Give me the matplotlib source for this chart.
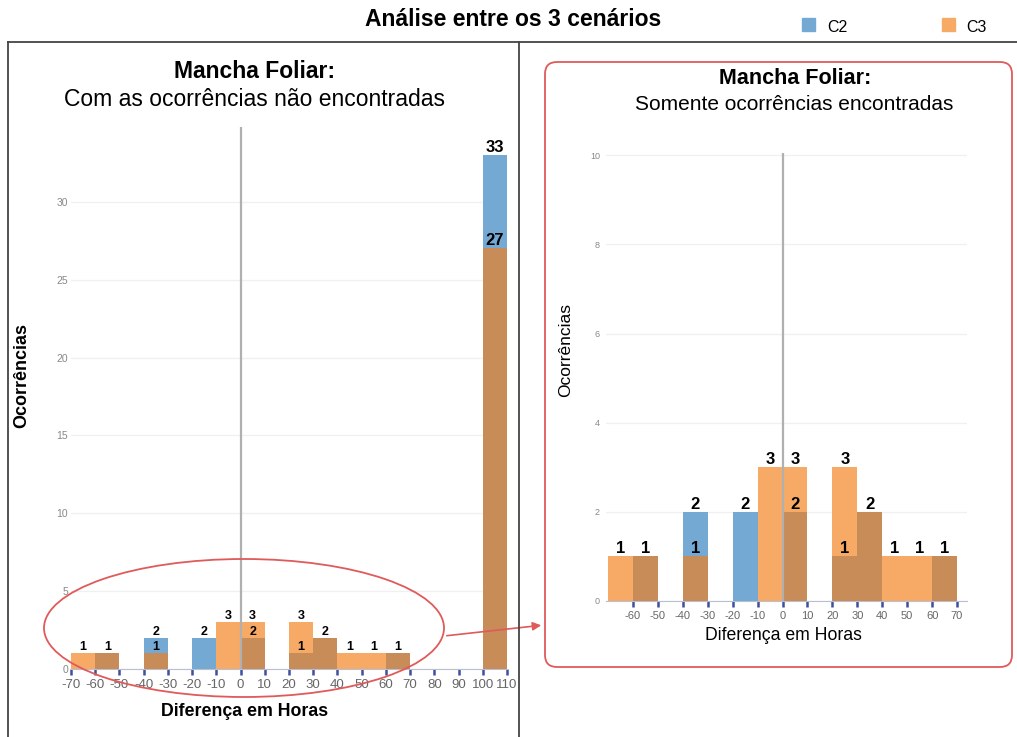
import numpy as np
import matplotlib
matplotlib.use("Agg")
import matplotlib.pyplot as plt
from matplotlib.patches import Ellipse, FancyBboxPatch, Rectangle, FancyArrowPatch
from matplotlib.lines import Line2D

plt.rcParams["font.family"] = ["Liberation Sans", "DejaVu Sans"]
plt.rcParams["axes.unicode_minus"] = False

# ================= DATA =================
# left edge of each 10 h bin, counts per scenario
bin_left = np.array([-70, -60, -40, -20, -10, 0, 20, 30, 40, 50, 60, 100])
c2 = np.array([0, 1, 2, 2, 0, 2, 1, 2, 0, 0, 1, 33])
c3 = np.array([1, 1, 1, 0, 3, 3, 3, 2, 1, 1, 1, 27])
BIN_W = 10

xticks_left = list(range(-70, 111, 10))
yticks_left = [0, 5, 10, 15, 20, 25, 30]
xticks_right = list(range(-60, 71, 10))
yticks_right = [0, 2, 4, 6, 8, 10]

BLUE = "#74a9d3"
ORANGE = "#f7aa66"
BROWN = "#c78c57"
RED = "#e05a5a"

W, H = 1017, 737
fig = plt.figure(figsize=(W / 100, H / 100), dpi=100)


def px(x, y):
    # pixel (top-left origin) -> figure fraction
    return x / W, 1 - y / H


def draw_hist(ax, left, a, b, lab_size):
    ax.bar(left, a, width=BIN_W, align="edge", color=BLUE, linewidth=0, zorder=2)
    ax.bar(left, b, width=BIN_W, align="edge", color=ORANGE, linewidth=0, zorder=2)
    ax.bar(left, np.minimum(a, b), width=BIN_W, align="edge", color=BROWN,
           linewidth=0, zorder=3)
    for x, v2, v3 in zip(left, a, b):
        for v in sorted(set([v2, v3])):
            if v > 0:
                ax.text(x + BIN_W / 2, v, str(v), ha="center", va="bottom",
                        fontsize=lab_size, fontweight="bold", zorder=5)
    ax.axvline(0, color="#b0b0b0", lw=1.6, zorder=4)
    for s in ["top", "right", "left"]:
        ax.spines[s].set_visible(False)
    ax.spines["bottom"].set_color("#b8bfd4")
    ax.tick_params(axis="x", colors="#3c4fa0", length=4, width=1.8,
                   labelcolor="#666666")
    ax.tick_params(axis="y", length=0, labelcolor="#888888")
    ax.grid(axis="y", color="#f0f0f0", lw=1, zorder=0)
    ax.set_axisbelow(True)


# ================= LEFT PANEL =================
l0, b0 = px(71, 669)
l1, b1 = px(507, 127)
axL = fig.add_axes([l0, b0, l1 - l0, b1 - b0])
draw_hist(axL, bin_left, c2, c3, 9)
axL.set_xlim(-70, 110)
axL.set_ylim(0, 34.8)
axL.set_xticks(xticks_left)
axL.set_yticks(yticks_left)
axL.tick_params(axis="x", labelsize=9.5)
axL.tick_params(axis="y", labelsize=7.5, pad=2)
# the 33 / 27 labels are drawn bigger
for t in axL.texts:
    if t.get_text() in ("33", "27"):
        t.set_fontsize(12)

# ================= RIGHT PANEL =================
mask = bin_left < 100
r0, rb0 = px(605.5, 601)
r1, rb1 = px(967, 153)
axR = fig.add_axes([r0, rb0, r1 - r0, rb1 - rb0])
draw_hist(axR, bin_left[mask], c2[mask], c3[mask], 12)
axR.set_xlim(-71, 74)
axR.set_ylim(0, 10.05)
axR.set_xticks(xticks_right)
axR.set_yticks(yticks_right)
axR.tick_params(axis="x", labelsize=8)
axR.tick_params(axis="y", labelsize=6.5, pad=4)

# ================= TEXT =================
fig.text(*px(513, 20), "Análise entre os 3 cenários", ha="center", va="center",
         fontsize=16.5, fontweight="bold")
fig.add_artist(Rectangle(px(802, 31), 13 / W, 13 / H, color=BLUE,
                         transform=fig.transFigure))
fig.text(*px(827, 27), "C2", ha="left", va="center", fontsize=11.5)
fig.add_artist(Rectangle(px(942, 31), 13 / W, 13 / H, color=ORANGE,
                         transform=fig.transFigure))
fig.text(*px(966, 27), "C3", ha="left", va="center", fontsize=11.5)

fig.text(*px(255, 72), "Mancha Foliar:", ha="center", va="center",
         fontsize=16.5, fontweight="bold")
fig.text(*px(254, 100), "Com as ocorrências não encontradas", ha="center",
         va="center", fontsize=16.5)
fig.text(*px(22, 375), "Ocorrências", ha="center", va="center", rotation=90,
         fontsize=13, fontweight="bold")
fig.text(*px(245, 711), "Diferença em Horas", ha="center", va="center",
         fontsize=12.8, fontweight="bold")

fig.text(*px(795, 78), "Mancha Foliar:", ha="center", va="center",
         fontsize=15.5, fontweight="bold")
fig.text(*px(794, 104), "Somente ocorrências encontradas", ha="center",
         va="center", fontsize=15)
fig.text(*px(566, 350), "Ocorrências", ha="center", va="center", rotation=90,
         fontsize=12.5)
fig.text(*px(783, 636), "Diferença em Horas", ha="center", va="center",
         fontsize=12.7)

# ================= FRAMES / ANNOTATIONS =================
for (xa, ya), (xb, yb) in [((8, 42), (1017, 42)), ((8, 42), (8, 737)),
                           ((519, 42), (519, 737))]:
    p0, p1 = px(xa, ya), px(xb, yb)
    fig.add_artist(Line2D([p0[0], p1[0]], [p0[1], p1[1]], color="#444444",
                          lw=1.3, transform=fig.transFigure))

fig.add_artist(FancyBboxPatch((545, H - 667), 1012 - 545, 667 - 62,
                              boxstyle="round,pad=0,rounding_size=12",
                              fill=False, edgecolor=RED, lw=1.3,
                              transform=None))
fig.add_artist(Ellipse((244, H - 628), 400, 138, fill=False, edgecolor=RED,
                       lw=1.3, transform=None))
fig.add_artist(FancyArrowPatch((444, H - 636), (544, H - 625),
                               arrowstyle="-|>,head_length=5,head_width=2.5",
                               color=RED, lw=1.2, transform=None))

fig.savefig("out.png", dpi=100)
